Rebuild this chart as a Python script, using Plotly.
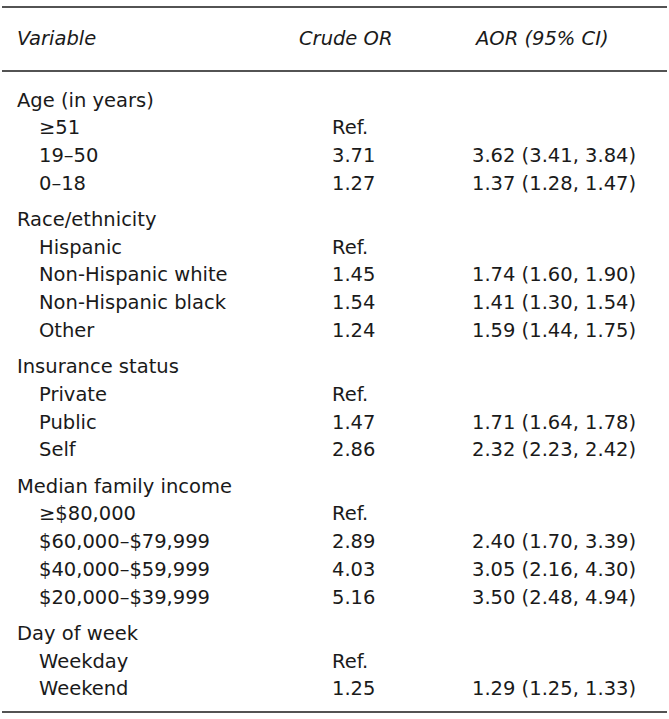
import plotly.graph_objects as go

# ---- data ----
header_labels = ["Variable", "Crude OR", "AOR (95% CI)"]
groups = ["Age (in years)", "Race/ethnicity", "Insurance status",
          "Median family income", "Day of week"]
levels = [
    ["≥51", "19–50", "0–18"],
    ["Hispanic", "Non-Hispanic white", "Non-Hispanic black", "Other"],
    ["Private", "Public", "Self"],
    ["≥$80,000", "$60,000–$79,999", "$40,000–$59,999", "$20,000–$39,999"],
    ["Weekday", "Weekend"],
]
crude_or = [
    [None, 3.71, 1.27],
    [None, 1.45, 1.54, 1.24],
    [None, 1.47, 2.86],
    [None, 2.89, 4.03, 5.16],
    [None, 1.25],
]
aor = [
    [None, 3.62, 1.37],
    [None, 1.74, 1.41, 1.59],
    [None, 1.71, 2.32],
    [None, 2.40, 3.05, 3.50],
    [None, 1.29],
]
aor_lo = [
    [None, 3.41, 1.28],
    [None, 1.60, 1.30, 1.44],
    [None, 1.64, 2.23],
    [None, 1.70, 2.16, 2.48],
    [None, 1.25],
]
aor_hi = [
    [None, 3.84, 1.47],
    [None, 1.90, 1.54, 1.75],
    [None, 1.78, 2.42],
    [None, 3.39, 4.30, 4.94],
    [None, 1.33],
]

# ---- layout constants ----
W, H = 669, 719
FONT = "DejaVu Sans"
FS = 19.5
COLOR = "#1a1a1a"
X_GROUP, X_LEVEL, X_CRUDE, X_AOR = 15, 37, 330, 470
X_CRUDE_HDR, X_AOR_HDR = 297, 472
Y_HDR = 38
Y_START = 100
PITCH = 27.7
GAP = 36.4

anns = []


def txt(x, y, s, italic=False):
    anns.append(dict(x=x, y=y, xref="x", yref="y", text=s, showarrow=False,
                     xanchor="left", yanchor="middle",
                     font=dict(family=FONT, size=FS, color=COLOR,
                               style="italic" if italic else "normal")))


txt(X_GROUP, Y_HDR, header_labels[0], True)
txt(X_CRUDE_HDR, Y_HDR, header_labels[1], True)
txt(X_AOR_HDR, Y_HDR, header_labels[2], True)

y = Y_START
for gi, g in enumerate(groups):
    if gi > 0:
        y += GAP
    txt(X_GROUP, y, g)
    for li, lv in enumerate(levels[gi]):
        y += PITCH
        txt(X_LEVEL, y, lv)
        c = crude_or[gi][li]
        txt(X_CRUDE, y, "Ref." if c is None else f"{c:.2f}")
        a = aor[gi][li]
        if a is not None:
            txt(X_AOR, y, f"{a:.2f} ({aor_lo[gi][li]:.2f}, {aor_hi[gi][li]:.2f})")

shapes = []
for yl in [7, 71, 712]:
    shapes.append(dict(type="line", xref="x", yref="y", x0=2, x1=667, y0=yl, y1=yl,
                       line=dict(color="#1a1a1a", width=1.3)))

fig = go.Figure()
fig.update_layout(
    width=W, height=H, margin=dict(l=0, r=0, t=0, b=0),
    paper_bgcolor="white", plot_bgcolor="white",
    xaxis=dict(range=[0, W], visible=False, fixedrange=True),
    yaxis=dict(range=[H, 0], visible=False, fixedrange=True),
    annotations=anns, shapes=shapes, showlegend=False,
)
fig.write_html("out.html", config={"displayModeBar": False},
               post_script="document.body.style.margin='0';document.body.style.overflow='hidden';")
